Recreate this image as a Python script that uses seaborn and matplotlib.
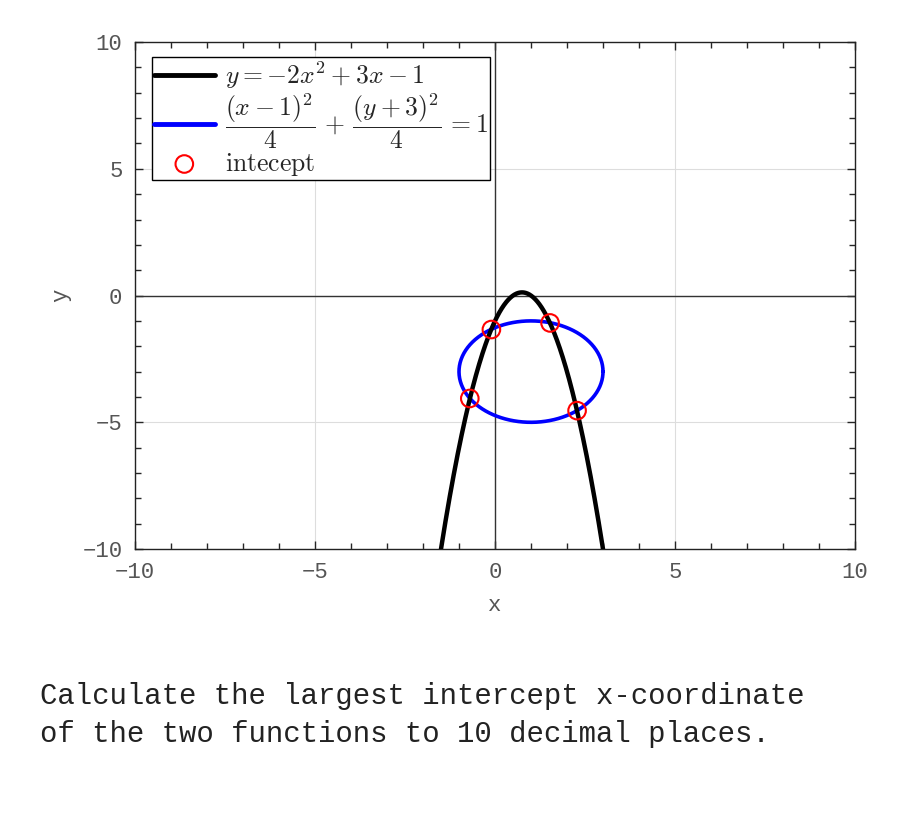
"""
Parabola and circle with their intercepts.
"""

import numpy as np
import pandas as pd
import matplotlib
matplotlib.use("Agg")
import matplotlib.pyplot as plt
from matplotlib.ticker import MultipleLocator
import seaborn as sns

# curve definitions (from the legend)
parabola_coef = [-2, 3, -1]
circle_center = (1, -3)
circle_radius = 2

# intercepts
intercept_x = [-0.10, 1.53, -0.70, 2.28]
intercept_y = [-1.34, -1.08, -4.06, -4.54]

xlim = (-10, 10)
ylim = (-10, 10)
ticks = [-10, -5, 0, 5, 10]

sns.set_style("white")
plt.rcParams["mathtext.fontset"] = "cm"
plt.rcParams["font.family"] = ["Liberation Mono", "DejaVu Sans Mono"]

# curve samples
px = np.linspace(-2, 3.5, 600)
parab = pd.DataFrame({"x": px, "y": np.polyval(parabola_coef, px)})
t = np.linspace(0, 2 * np.pi, 400)
circ = pd.DataFrame({"x": circle_center[0] + circle_radius * np.cos(t),
                     "y": circle_center[1] + circle_radius * np.sin(t)})
pts = pd.DataFrame({"x": intercept_x, "y": intercept_y})

fig = plt.figure(figsize=(9, 8.25), dpi=100)
ax = fig.add_axes([0.15, 0.3345, 0.80, 0.6145])

ax.axhline(0, color="#333333", lw=1, zorder=1)
ax.axvline(0, color="#333333", lw=1, zorder=1)

sns.lineplot(data=parab, x="x", y="y", ax=ax, color="black", lw=3.2,
             sort=False, estimator=None, label=r"$y=-2x^2+3x-1$", zorder=3)
sns.lineplot(data=circ, x="x", y="y", ax=ax, color="#0000ff", lw=2.6,
             sort=False, estimator=None,
             label=r"$\dfrac{(x-1)^2}{4}\,+\,\dfrac{(y+3)^2}{4}\,=1$", zorder=2)
sns.scatterplot(data=pts, x="x", y="y", ax=ax, s=160, facecolors="none",
                edgecolor="red", linewidth=1.5, label=r"$\mathrm{intecept}$", zorder=4)

ax.set_xlim(xlim)
ax.set_ylim(ylim)
ax.set_xticks(ticks)
ax.set_yticks(ticks)
ax.xaxis.set_minor_locator(MultipleLocator(1))
ax.yaxis.set_minor_locator(MultipleLocator(1))
ax.grid(True, which="major", color="#dddddd", lw=0.8)
ax.set_axisbelow(True)
ax.tick_params(which="both", direction="in", top=True, right=True,
               bottom=True, left=True, labelsize=16, labelcolor="#555555")
ax.tick_params(which="major", length=6, width=1, pad=9)
ax.tick_params(which="minor", length=4, width=1)
for s in ax.spines.values():
    s.set_color("#222222")
    s.set_linewidth(1)

ax.set_xlabel("x", fontsize=16, color="#555555", labelpad=9)
ax.set_ylabel("y", fontsize=16, color="#555555", labelpad=8)

leg = ax.legend(loc="upper left", bbox_to_anchor=(0.023, 0.97), fontsize=18.5,
                frameon=True, fancybox=False, edgecolor="black", framealpha=1,
                handlelength=2.35, handletextpad=0.4, borderpad=0.1,
                labelspacing=0.0, borderaxespad=0)
leg.get_frame().set_linewidth(1)
for h in leg.legend_handles[:2]:
    h.set_linewidth(3.5)

fig.text(40 / 900, 1 - 715 / 825,
         "Calculate the largest intercept x-coordinate\nof the two functions to 10 decimal places.",
         fontsize=20.9, va="center", ha="left", color="#222222", linespacing=1.43)

fig.savefig("out.png", dpi=100)
